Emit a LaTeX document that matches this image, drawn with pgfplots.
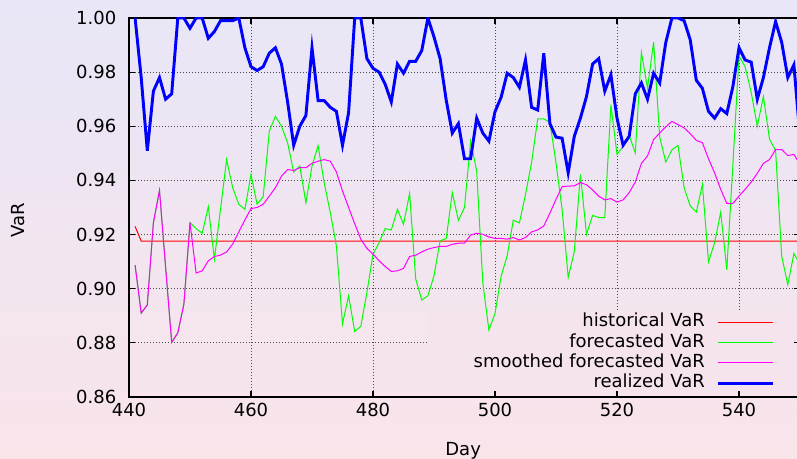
\documentclass[border=0pt]{standalone}
\usepackage{fontspec}
\setmainfont{DejaVu Sans}
\usepackage{pgfplots}
\usepackage{pgfplotstable}
\pgfplotsset{compat=1.18}

\definecolor{bgtop}{RGB}{232,230,247}
\definecolor{bgbot}{RGB}{249,228,234}
\definecolor{legbg}{RGB}{245,228,237}
\definecolor{histred}{RGB}{255,0,0}
\definecolor{fcgreen}{RGB}{0,255,0}
\definecolor{smmag}{RGB}{255,0,255}
\definecolor{realblue}{RGB}{0,0,255}

% key box sits above the grid but below the curves
\pgfplotsset{
  layers/keybelow/.define layer set={
    axis background, axis grid, axis descriptions, axis ticks, axis lines,
    axis tick labels, pre main, main, axis foreground
  }{/pgfplots/layers/standard},
}

% historical VaR
\pgfplotstableread{
day var
441 0.9230
442 0.9176
550 0.9176
}\historical

% forecasted VaR
\pgfplotstableread{
day var
441 0.9087
442 0.8910
443 0.8940
444 0.9244
445 0.9363
446 0.9080
447 0.8802
448 0.8837
449 0.8943
450 0.9244
451 0.9222
452 0.9205
453 0.9303
454 0.9109
455 0.9293
456 0.9477
457 0.9373
458 0.9312
459 0.9293
460 0.9422
461 0.9312
462 0.9340
463 0.9582
464 0.9637
465 0.9600
466 0.9539
467 0.9431
468 0.9453
469 0.9318
470 0.9453
471 0.9529
472 0.9391
473 0.9281
474 0.9158
475 0.8870
476 0.8974
477 0.8842
478 0.8861
479 0.8986
480 0.9127
481 0.9170
482 0.9222
483 0.9217
484 0.9293
485 0.9238
486 0.9352
487 0.9036
488 0.8958
489 0.8974
490 0.9048
491 0.9177
492 0.9185
493 0.9355
494 0.9252
495 0.9300
496 0.9545
497 0.9434
498 0.9022
499 0.8847
500 0.8908
501 0.9046
502 0.9122
503 0.9253
504 0.9243
505 0.9348
506 0.9467
507 0.9627
508 0.9627
509 0.9615
510 0.9465
511 0.9293
512 0.9042
513 0.9137
514 0.9422
515 0.9201
516 0.9271
517 0.9263
518 0.9263
519 0.9680
520 0.9496
521 0.9526
522 0.9566
523 0.9502
524 0.9873
525 0.9741
526 0.9911
527 0.9560
528 0.9468
529 0.9513
530 0.9529
531 0.9373
532 0.9306
533 0.9283
534 0.9385
535 0.9099
536 0.9170
537 0.9283
538 0.9070
539 0.9460
540 0.9860
541 0.9820
542 0.9725
543 0.9600
544 0.9710
545 0.9553
546 0.9510
547 0.9120
548 0.9015
549 0.9130
550 0.9090
}\forecasted

% smoothed forecasted VaR
\pgfplotstableread{
day var
441 0.9087
442 0.8910
443 0.8940
444 0.9244
445 0.9363
446 0.9080
447 0.8802
448 0.8837
449 0.8943
450 0.9244
451 0.9058
452 0.9066
453 0.9103
454 0.9119
455 0.9124
456 0.9136
457 0.9165
458 0.9210
459 0.9254
460 0.9296
461 0.9300
462 0.9312
463 0.9342
464 0.9373
465 0.9416
466 0.9440
467 0.9437
468 0.9447
469 0.9447
470 0.9463
471 0.9471
472 0.9477
473 0.9471
474 0.9431
475 0.9361
476 0.9300
477 0.9240
478 0.9183
479 0.9149
480 0.9128
481 0.9103
482 0.9082
483 0.9064
484 0.9066
485 0.9075
486 0.9119
487 0.9124
488 0.9136
489 0.9146
490 0.9152
491 0.9156
492 0.9156
493 0.9164
494 0.9168
495 0.9168
496 0.9198
497 0.9205
498 0.9201
499 0.9191
500 0.9186
501 0.9186
502 0.9183
503 0.9189
504 0.9180
505 0.9189
506 0.9210
507 0.9217
508 0.9232
509 0.9279
510 0.9330
511 0.9377
512 0.9379
513 0.9380
514 0.9392
515 0.9384
516 0.9365
517 0.9342
518 0.9328
519 0.9333
520 0.9320
521 0.9328
522 0.9355
523 0.9394
524 0.9463
525 0.9490
526 0.9551
527 0.9575
528 0.9598
529 0.9618
530 0.9606
531 0.9594
532 0.9573
533 0.9548
534 0.9539
535 0.9480
536 0.9428
537 0.9367
538 0.9315
539 0.9315
540 0.9342
541 0.9367
542 0.9394
543 0.9426
544 0.9463
545 0.9477
546 0.9514
547 0.9514
548 0.9492
549 0.9496
550 0.9460
}\smoothed

% realized VaR
\pgfplotstableread{
day var
441 1.0000
442 0.9780
443 0.9510
444 0.9730
445 0.9780
446 0.9700
447 0.9720
448 1.0000
449 1.0000
450 0.9962
451 1.0000
452 1.0000
453 0.9925
454 0.9950
455 0.9990
456 0.9990
457 0.9990
458 1.0000
459 0.9890
460 0.9820
461 0.9806
462 0.9820
463 0.9870
464 0.9890
465 0.9830
466 0.9690
467 0.9530
468 0.9600
469 0.9640
470 0.9890
471 0.9695
472 0.9695
473 0.9670
474 0.9655
475 0.9530
476 0.9650
477 1.0000
478 1.0000
479 0.9850
480 0.9814
481 0.9800
482 0.9755
483 0.9690
484 0.9830
485 0.9796
486 0.9840
487 0.9840
488 0.9880
489 1.0000
490 0.9930
491 0.9850
492 0.9697
493 0.9575
494 0.9610
495 0.9480
496 0.9480
497 0.9630
498 0.9575
499 0.9545
500 0.9654
501 0.9707
502 0.9796
503 0.9780
504 0.9744
505 0.9845
506 0.9670
507 0.9660
508 0.9870
509 0.9610
510 0.9560
511 0.9556
512 0.9428
513 0.9563
514 0.9630
515 0.9710
516 0.9830
517 0.9850
518 0.9730
519 0.9790
520 0.9630
521 0.9530
522 0.9563
523 0.9720
524 0.9760
525 0.9700
526 0.9796
527 0.9760
528 0.9910
529 1.0000
530 1.0000
531 0.9990
532 0.9920
533 0.9770
534 0.9740
535 0.9655
536 0.9630
537 0.9665
538 0.9647
539 0.9747
540 0.9890
541 0.9845
542 0.9837
543 0.9700
544 0.9780
545 0.9890
546 0.9987
547 0.9910
548 0.9780
549 0.9827
550 0.9560
}\realized

\newcommand{\chartfont}{\fontsize{13.5pt}{16pt}\selectfont}

\begin{document}
\begin{tikzpicture}
\begin{axis}[
  set layers=keybelow,
  clip mode=individual,
  at={(0,0)}, anchor=south west,
  scale only axis, width=503.25pt, height=284.25pt,
  xmin=440, xmax=550, ymin=0.86, ymax=1.00,
  xtick={440,460,480,500,520,540},
  ytick={0.86,0.88,0.90,0.92,0.94,0.96,0.98,1.00},
  grid=major,
  grid style={dash pattern=on 0.75pt off 1.5pt, line width=0.6pt, black!70},
  tick align=inside, major tick length=4.5pt,
  axis line style={line width=0.8pt, black},
  every tick/.style={black, line width=0.8pt},
  /pgf/number format/assume math mode=true,
  tick label style={font=\chartfont},
  yticklabel style={/pgf/number format/.cd, fixed, fixed zerofill, precision=2, /tikz/.cd, xshift=-6pt},
  xticklabel style={yshift=-1.1pt},
  xlabel={Day}, ylabel={VaR},
  label style={font=\chartfont},
  xlabel style={at={(axis description cs:0.498,-0.142)}, anchor=center},
  ylabel style={at={(axis description cs:-0.165,0.467)}, anchor=center},
  legend plot pos=right,
  legend cell align=right,
  legend image code/.code={\draw[#1] (0pt,0pt) -- (41.25pt,0pt);},
  legend style={at={(1.0313,0.2243)}, anchor=north east, fill=legbg, draw=none,
    inner xsep=34.5pt, inner ysep=0pt, font=\chartfont, row sep=0pt, column sep=9pt,
    nodes={inner sep=0pt, text height=11pt, text depth=4.2pt}},
]
% page background, behind everything
\begin{pgfonlayer}{axis background}
\shade[top color=bgtop, bottom color=bgbot]
  ([xshift=-96.75pt, yshift=-46.5pt]rel axis cs:0,0) rectangle
  ([xshift=501pt, yshift=297.75pt]rel axis cs:0,0);
\end{pgfonlayer}
\addplot[histred, line width=0.75pt] table[x=day, y=var] {\historical};
\addlegendentry{historical VaR}
\addplot[fcgreen, line width=0.75pt] table[x=day, y=var] {\forecasted};
\addlegendentry{forecasted VaR}
\addplot[smmag, line width=0.75pt] table[x=day, y=var] {\smoothed};
\addlegendentry{smoothed forecasted VaR}
\addplot[realblue, line width=2.2pt] table[x=day, y=var] {\realized};
\addlegendentry{realized VaR}
\end{axis}
\pgfresetboundingbox
\useasboundingbox (-96.75pt,-46.5pt) rectangle (501pt,297.75pt);
\end{tikzpicture}
\end{document}
